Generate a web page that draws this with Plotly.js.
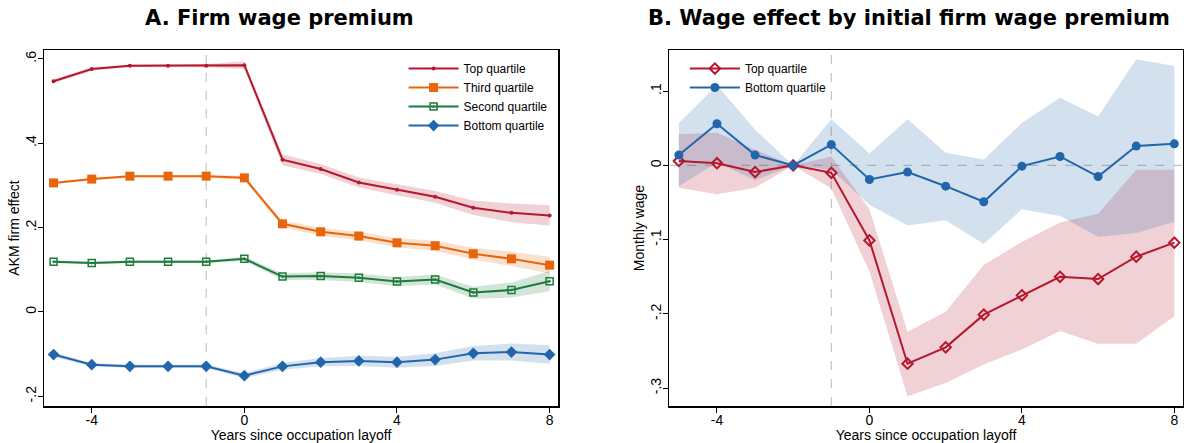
<!DOCTYPE html>
<html>
<head>
<meta charset="utf-8">
<script src="https://cdn.plot.ly/plotly-3.0.1.min.js"></script>
<style>html,body{margin:0;padding:0;background:#fff;}#chart{width:1187px;height:443px;}</style>
</head>
<body>
<div id="chart"></div>
<script>
// ---------- Data ----------
const years = [-5,-4,-3,-2,-1,0,1,2,3,4,5,6,7,8];
const xTickVals = [-4,0,4,8];
const xTickText = ['-4','0','4','8'];

// Panel A: AKM firm effect by quartile
const aTop      = [0.547,0.576,0.584,0.584,0.584,0.585,0.361,0.339,0.307,0.290,0.273,0.247,0.235,0.229];
const aTopCI    = [0.004,0.004,0.003,0.003,0.004,0.009,0.013,0.012,0.012,0.013,0.014,0.017,0.022,0.024];
const aThird    = [0.306,0.315,0.322,0.322,0.322,0.318,0.209,0.190,0.180,0.164,0.157,0.138,0.126,0.111];
const aThirdCI  = [0.003,0.003,0.003,0.003,0.003,0.005,0.008,0.009,0.010,0.011,0.012,0.014,0.017,0.020];
const aSecond   = [0.119,0.116,0.119,0.119,0.119,0.126,0.084,0.085,0.081,0.072,0.077,0.046,0.052,0.073];
const aSecondCI = [0.003,0.003,0.003,0.003,0.003,0.005,0.008,0.009,0.010,0.011,0.012,0.014,0.018,0.024];
const aBottom   = [-0.101,-0.125,-0.129,-0.129,-0.129,-0.151,-0.129,-0.119,-0.116,-0.119,-0.113,-0.098,-0.095,-0.101];
const aBottomCI = [0.005,0.004,0.004,0.004,0.004,0.006,0.008,0.010,0.012,0.013,0.015,0.017,0.020,0.022];
const aTickVals = [-0.2,0,0.2,0.4,0.6];
const aTickText = ['-.2','0','.2','.4','.6'];

// Panel B: monthly wage effect
const bTop      = [0.006,0.003,-0.009,0,-0.010,-0.101,-0.267,-0.245,-0.201,-0.175,-0.150,-0.153,-0.123,-0.104];
const bTopLo    = [-0.030,-0.039,-0.030,0,-0.031,-0.143,-0.311,-0.293,-0.268,-0.248,-0.223,-0.240,-0.240,-0.203];
const bTopHi    = [0.042,0.044,0.021,0,0.012,-0.059,-0.224,-0.197,-0.134,-0.103,-0.077,-0.065,-0.006,-0.006];
const bBottom   = [0.014,0.056,0.014,0,0.028,-0.019,-0.009,-0.028,-0.049,-0.001,0.012,-0.015,0.026,0.029];
const bBottomLo = [-0.028,0.004,-0.020,0,-0.006,-0.053,-0.081,-0.074,-0.106,-0.059,-0.068,-0.096,-0.091,-0.076];
const bBottomHi = [0.057,0.108,0.048,0,0.062,0.016,0.062,0.017,0.008,0.057,0.091,0.066,0.143,0.134];
const bTickVals = [-0.3,-0.2,-0.1,0,0.1];
const bTickText = ['-.3','-.2','-.1','0','.1'];

// ---------- Styles ----------
const RED='#B5172D', ORANGE='#E8650B', GREEN='#1E7B3A', BLUE='#2166AC';
const fillOf = {};
fillOf[RED]='rgba(181,23,45,0.2)'; fillOf[ORANGE]='rgba(232,101,11,0.2)';
fillOf[GREEN]='rgba(30,123,58,0.2)'; fillOf[BLUE]='rgba(33,102,172,0.2)';
const FONT = 'Liberation Sans, Arial, sans-serif';

function band(lo, hi, color, xa, ya){
  return [
    {x:years, y:lo, xaxis:xa, yaxis:ya, type:'scatter', mode:'lines', line:{width:0,color:color}, showlegend:false, hoverinfo:'skip'},
    {x:years, y:hi, xaxis:xa, yaxis:ya, type:'scatter', mode:'lines', line:{width:0,color:color}, fill:'tonexty', fillcolor:fillOf[color], showlegend:false, hoverinfo:'skip'}
  ];
}
const add=(a,b)=>a.map((v,i)=>v+b[i]);
const sub=(a,b)=>a.map((v,i)=>v-b[i]);

const traces = [];
// Panel A bands
traces.push(...band(sub(aTop,aTopCI), add(aTop,aTopCI), RED, 'x','y'));
traces.push(...band(sub(aThird,aThirdCI), add(aThird,aThirdCI), ORANGE, 'x','y'));
traces.push(...band(sub(aSecond,aSecondCI), add(aSecond,aSecondCI), GREEN, 'x','y'));
traces.push(...band(sub(aBottom,aBottomCI), add(aBottom,aBottomCI), BLUE, 'x','y'));
// Panel B bands
traces.push(...band(bTopLo, bTopHi, RED, 'x2','y2'));
traces.push(...band(bBottomLo, bBottomHi, BLUE, 'x2','y2'));

// Panel A lines
traces.push({x:years,y:aTop,xaxis:'x',yaxis:'y',type:'scatter',mode:'lines+markers',name:'Top quartile',
  line:{color:RED,width:2},marker:{symbol:'circle',size:4,color:RED},legend:'legend'});
traces.push({x:years,y:aThird,xaxis:'x',yaxis:'y',type:'scatter',mode:'lines+markers',name:'Third quartile',
  line:{color:ORANGE,width:2},marker:{symbol:'square',size:9,color:ORANGE},legend:'legend'});
traces.push({x:years,y:aSecond,xaxis:'x',yaxis:'y',type:'scatter',mode:'lines+markers',name:'Second quartile',
  line:{color:GREEN,width:2},marker:{symbol:'square-open-dot',size:7,color:GREEN,line:{width:1.5,color:GREEN}},legend:'legend'});
traces.push({x:years,y:aBottom,xaxis:'x',yaxis:'y',type:'scatter',mode:'lines+markers',name:'Bottom quartile',
  line:{color:BLUE,width:2},marker:{symbol:'diamond',size:9,color:BLUE},legend:'legend'});
// Panel B lines
traces.push({x:years,y:bTop,xaxis:'x2',yaxis:'y2',type:'scatter',mode:'lines+markers',name:'Top quartile',
  line:{color:RED,width:2},marker:{symbol:'diamond-open',size:8,color:RED,line:{width:2,color:RED}},legend:'legend2'});
traces.push({x:years,y:bBottom,xaxis:'x2',yaxis:'y2',type:'scatter',mode:'lines+markers',name:'Bottom quartile',
  line:{color:BLUE,width:2},marker:{symbol:'circle',size:9,color:BLUE},legend:'legend2'});

const axFont = {family:FONT,size:14,color:'#000'};
const xCommon = {range:[-5.25,8.22], tickvals:xTickVals, ticktext:xTickText, ticks:'outside', ticklen:5, tickwidth:1, tickcolor:'#000',
  ticklabelstandoff:-4,
  showline:true, linecolor:'#000', linewidth:1.5, mirror:true, showgrid:false, zeroline:false, tickfont:axFont,
  title:{text:'Years since occupation layoff', font:axFont, standoff:0}};
const yCommon = {ticks:'outside', ticklen:5, tickwidth:1, tickcolor:'#000', tickangle:-90, ticklabelstandoff:-4,
  showline:true, linecolor:'#000', linewidth:1.5, mirror:true, showgrid:false, zeroline:false, tickfont:axFont};

const layout = {
  width:1187, height:443, margin:{l:0,r:0,t:0,b:0},
  paper_bgcolor:'#fff', plot_bgcolor:'#fff', font:{family:FONT,color:'#000'},
  xaxis:Object.assign({}, xCommon, {domain:[0.0371,0.4701], anchor:'y'}),
  yaxis:Object.assign({}, yCommon, {domain:[0.0835,0.887], anchor:'x', range:[-0.223,0.621],
    tickvals:aTickVals, ticktext:aTickText, title:{text:'AKM firm effect', font:axFont, standoff:0}}),
  xaxis2:Object.assign({}, xCommon, {domain:[0.5639,0.9964], anchor:'y2'}),
  yaxis2:Object.assign({}, yCommon, {domain:[0.0835,0.887], anchor:'x2', range:[-0.324,0.1553],
    tickvals:bTickVals, ticktext:bTickText, title:{text:'Monthly wage', font:axFont, standoff:0}}),
  legend:{x:0.340, y:0.878, xanchor:'left', yanchor:'top', bgcolor:'rgba(0,0,0,0)', borderwidth:0, traceorder:'normal',
    font:{family:FONT,size:12,color:'#000'}, itemwidth:50},
  legend2:{x:0.577, y:0.878, xanchor:'left', yanchor:'top', bgcolor:'rgba(0,0,0,0)', borderwidth:0, traceorder:'normal',
    font:{family:FONT,size:12,color:'#000'}, itemwidth:50},
  shapes:[
    {type:'line', xref:'x', yref:'y domain', x0:-1, x1:-1, y0:0, y1:1, line:{color:'#C4C4C4', width:1.2, dash:'dash'}, layer:'below'},
    {type:'line', xref:'x2', yref:'y2 domain', x0:-1, x1:-1, y0:0, y1:1, line:{color:'#C4C4C4', width:1.2, dash:'dash'}, layer:'below'},
    {type:'line', xref:'x2 domain', yref:'y2', x0:0, x1:1, y0:0, y1:0, line:{color:'#C4C4C4', width:1.2, dash:'dash'}, layer:'below'}
  ],
  annotations:[
    {text:'<b>A. Firm wage premium</b>', xref:'paper', yref:'paper', x:0.2355, y:1, yshift:-4, xanchor:'center', yanchor:'top',
      showarrow:false, font:{family:'DejaVu Sans', size:21, color:'#000'}},
    {text:'<b>B. Wage effect by initial firm wage premium</b>', xref:'paper', yref:'paper', x:0.7654, y:1, yshift:-4, xanchor:'center', yanchor:'top',
      showarrow:false, font:{family:'DejaVu Sans', size:21, color:'#000'}}
  ]
};

Plotly.newPlot('chart', traces, layout, {displayModeBar:false, staticPlot:true});
</script>
</body>
</html>
